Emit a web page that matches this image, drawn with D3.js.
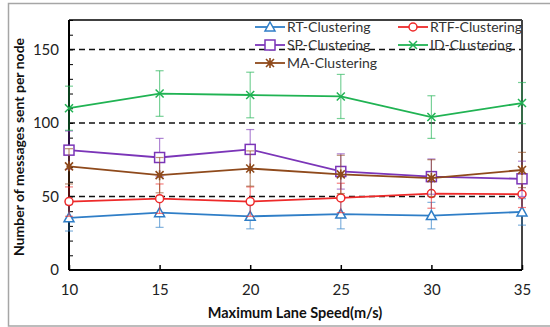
<!DOCTYPE html>
<html>
<head>
<meta charset="utf-8">
<script src="https://cdn.jsdelivr.net/npm/d3@7"></script>
<style>
  body { margin: 0; background: #fff; }
  text { font-family: Lato, "Open Sans", sans-serif; }
</style>
</head>
<body>
<div id="chart"></div>
<script>
// speeds on x axis
var speeds = [10, 15, 20, 25, 30, 35];
var yTicks = [0, 50, 100, 150];
var gridLines = [50, 100, 150];

// mean values
var rtVals  = [35.5, 39, 36.5, 38, 37, 39.5];
var rtfVals = [46.5, 48.5, 46.5, 49, 52, 51.5];
var spVals  = [81.5, 76.5, 82, 67, 63.5, 62];
var idVals  = [110, 120, 119, 118, 104, 113.5];
var maVals  = [70.5, 64.5, 69, 65, 62.5, 68];

// error (half range)
var rtErr  = [9, 10, 8.5, 10, 9, 9];
var rtfErr = [10, 10, 10, 10, 10, 9];
var spErr  = [13, 13, 13.5, 12, 12, 12];
var idErr  = [15, 15.5, 15.5, 15, 14.5, 14];
var maErr  = [12, 12, 12, 13, 12.5, 12];

var series = [
  {name: 'RT-Clustering',  vals: rtVals,  err: rtErr,  color: '#2f7ec7', mark: 'tri'},
  {name: 'RTF-Clustering', vals: rtfVals, err: rtfErr, color: '#ee2a2a', mark: 'circ'},
  {name: 'SP-Clustering',  vals: spVals,  err: spErr,  color: '#7b35b8', mark: 'sq'},
  {name: 'ID-Clustering',  vals: idVals,  err: idErr,  color: '#20b353', mark: 'x'},
  {name: 'MA-Clustering',  vals: maVals,  err: maErr,  color: '#8f4a1c', mark: 'star'}
];

var W = 550, H = 327;
var m = {left: 69, right: 522, top: 20, bottom: 270};

var svg = d3.select('#chart').append('svg')
  .attr('width', W).attr('height', H);

// outer frame
svg.append('rect')
  .attr('x', 8.5).attr('y', 3.5)
  .attr('width', 545).attr('height', 322.5)
  .attr('fill', 'none').attr('stroke', '#a6a6a6').attr('stroke-width', 1.5);

var x = d3.scaleLinear().domain([10, 35]).range([m.left, m.right]);
var y = d3.scaleLinear().domain([0, 170]).range([m.bottom, m.top]);

// dashed grid
svg.selectAll('line.grid').data(gridLines).enter().append('line')
  .attr('class', 'grid')
  .attr('x1', m.left).attr('x2', m.right)
  .attr('y1', function(d){ return y(d); }).attr('y2', function(d){ return y(d); })
  .attr('stroke', '#111').attr('stroke-width', 1.5)
  .attr('stroke-dasharray', '6,4');

// box
svg.append('line').attr('x1', m.left).attr('x2', m.right).attr('y1', m.top).attr('y2', m.top)
  .attr('stroke', '#000').attr('stroke-width', 1.5);
svg.append('line').attr('x1', m.right).attr('x2', m.right).attr('y1', m.top).attr('y2', m.bottom)
  .attr('stroke', '#444').attr('stroke-width', 2);

// axes with inward ticks
var yAxis = d3.axisLeft(y).tickValues(d3.range(0, 171, 10)).tickSize(-4)
  .tickFormat(function(d){ return yTicks.indexOf(d) >= 0 ? d : ''; });
var gy = svg.append('g').attr('transform', 'translate(' + m.left + ',0)').call(yAxis);
gy.select('.domain').attr('stroke-width', 2).attr('d', 'M0,' + m.top + 'V' + m.bottom);
gy.selectAll('text').attr('x', -10).attr('font-size', '15px').attr('fill', '#222');

var xAxis = d3.axisBottom(x).tickValues(speeds).tickSize(-5).tickPadding(14);
var gx = svg.append('g').attr('transform', 'translate(0,' + m.bottom + ')').call(xAxis);
gx.select('.domain').attr('stroke-width', 2).attr('d', 'M' + m.left + ',0H' + m.right);
gx.selectAll('text').attr('font-size', '15px').attr('fill', '#222');
gx.selectAll('.tick line').attr('stroke-width', 1.5);

// axis titles
svg.append('text')
  .attr('transform', 'translate(24,' + ((m.top + m.bottom) / 2 + 2) + ') rotate(-90)')
  .attr('text-anchor', 'middle')
  .attr('font-size', '14px').attr('font-weight', 'bold').attr('fill', '#111')
  .text('Number of messages sent per node');
svg.append('text')
  .attr('x', 295).attr('y', 318)
  .attr('text-anchor', 'middle')
  .attr('font-size', '14.5px').attr('font-weight', 'bold').attr('fill', '#111')
  .text('Maximum Lane Speed(m/s)');

function drawMark(g, type, color) {
  if (type == 'tri') {
    g.append('path').attr('d', 'M0,-5L5,4L-5,4Z')
      .attr('fill', 'white').attr('stroke', color).attr('stroke-width', 1.5);
  } else if (type == 'circ') {
    g.append('circle').attr('r', 4)
      .attr('fill', 'white').attr('stroke', color).attr('stroke-width', 1.5);
  } else if (type == 'sq') {
    g.append('rect').attr('x', -5).attr('y', -5).attr('width', 10).attr('height', 10)
      .attr('fill', 'white').attr('stroke', color).attr('stroke-width', 1.5);
  } else if (type == 'x') {
    g.append('path').attr('d', 'M-4,-4L4,4M-4,4L4,-4')
      .attr('stroke', color).attr('stroke-width', 1.5);
  } else {
    g.append('path').attr('d', 'M-4,-4L4,4M-4,4L4,-4M0,-5V5')
      .attr('stroke', color).attr('stroke-width', 1.6);
    g.append('circle').attr('r', 2.5).attr('fill', color);
  }
}

var line = d3.line()
  .x(function(d){ return x(d.s); })
  .y(function(d){ return y(d.v); });

series.forEach(function(s) {
  var pts = speeds.map(function(sp, i){ return {s: sp, v: s.vals[i], e: s.err[i]}; });
  var g = svg.append('g');

  // error bars
  var eb = g.selectAll('g.err').data(pts).enter().append('g')
    .attr('stroke', s.color).attr('stroke-opacity', 0.6).attr('stroke-width', 1.2);
  eb.append('line')
    .attr('x1', function(d){ return x(d.s); }).attr('x2', function(d){ return x(d.s); })
    .attr('y1', function(d){ return y(d.v + d.e); }).attr('y2', function(d){ return y(d.v - d.e); });
  eb.append('line')
    .attr('x1', function(d){ return x(d.s) - 4; }).attr('x2', function(d){ return x(d.s) + 4; })
    .attr('y1', function(d){ return y(d.v + d.e); }).attr('y2', function(d){ return y(d.v + d.e); });
  eb.append('line')
    .attr('x1', function(d){ return x(d.s) - 4; }).attr('x2', function(d){ return x(d.s) + 4; })
    .attr('y1', function(d){ return y(d.v - d.e); }).attr('y2', function(d){ return y(d.v - d.e); });

  g.append('path').datum(pts).attr('d', line)
    .attr('fill', 'none').attr('stroke', s.color).attr('stroke-width', 1.8);

  g.selectAll('g.mk').data(pts).enter().append('g')
    .attr('transform', function(d){ return 'translate(' + x(d.s) + ',' + y(d.v) + ')'; })
    .each(function(){ drawMark(d3.select(this), s.mark, s.color); });
});

// legend
var legPos = [[255, 27], [398, 27], [255, 45], [398, 45], [255, 63]];
series.forEach(function(s, i) {
  var lg = svg.append('g').attr('transform', 'translate(' + legPos[i][0] + ',' + legPos[i][1] + ')');
  lg.append('line').attr('x1', 0).attr('x2', 30).attr('y1', 0).attr('y2', 0)
    .attr('stroke', s.color).attr('stroke-width', 1.8);
  var mk = lg.append('g').attr('transform', 'translate(15,0)');
  drawMark(mk, s.mark, s.color);
  lg.append('text').attr('x', 32).attr('y', 5)
    .attr('font-size', '14px').attr('fill', '#333')
    .text(s.name);
});
</script>
</body>
</html>
